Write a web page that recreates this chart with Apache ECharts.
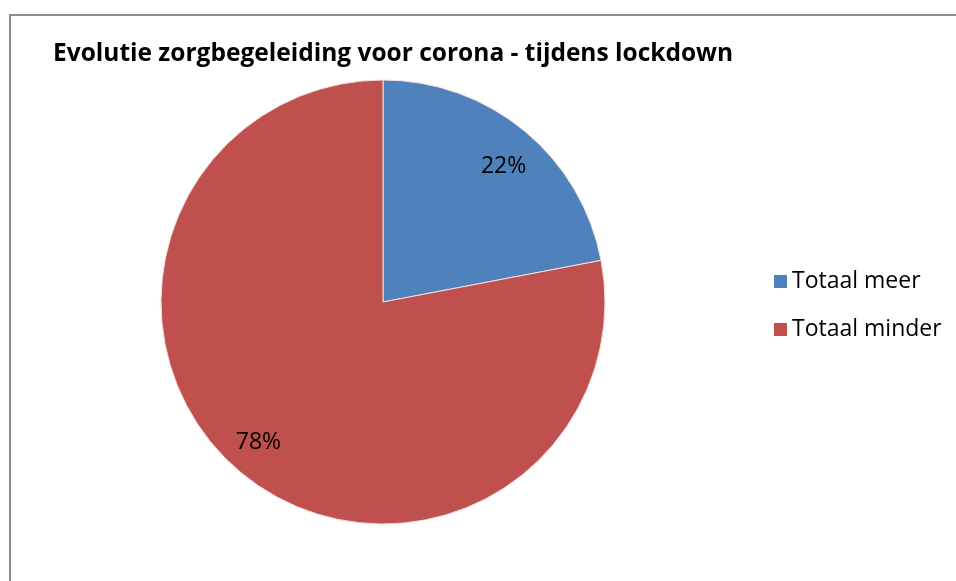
<!DOCTYPE html>
<html><head><meta charset="utf-8">
<script src="https://cdn.jsdelivr.net/npm/echarts@6/dist/echarts.min.js"></script>
<style>
html,body{margin:0;padding:0;background:#fff;}
#frame{position:absolute;left:9px;top:14px;width:1000px;height:620px;border:2px solid #8c8c8c;box-sizing:border-box;}
#main{position:absolute;left:0;top:0;width:956px;height:581px;}
</style>
</head><body>
<div id="frame"></div>
<div id="main"></div>
<script>
var titleText = 'Evolutie zorgbegeleiding voor corona - tijdens lockdown';
var categories = ['Totaal meer', 'Totaal minder'];
var values = [22, 78];

// styling
var colors = ['#4F81BD', '#C0504D'];
var labelOffsets = [[2, 8], [-6, -3]];

var data = categories.map(function(c, i){ return {name: c, value: values[i], itemStyle:{color: colors[i]}}; });
var labelData = categories.map(function(c, i){ return {name: c, value: values[i], label:{offset: labelOffsets[i]}}; });

var chart = echarts.init(document.getElementById('main'), null, {renderer:'canvas'});
chart.setOption({
  animation: false,
  backgroundColor: 'transparent',
  title: {
    text: titleText, left: 48, top: 37,
    textStyle: {fontFamily: 'Open Sans', fontWeight: 'bold', fontSize: 24.5, color: '#000'}
  },
  legend: {
    data: categories, orient: 'vertical', left: 769, top: 265,
    itemWidth: 13, itemHeight: 13, itemGap: 25, icon: 'rect',
    itemStyle: {borderWidth: 0},
    textStyle: {fontFamily: 'Open Sans', fontSize: 23, color: '#000', padding:[0,0,0,0]}
  },
  series: [{
    type: 'pie', center: [383, 302], radius: [0, 222], startAngle: 90, clockwise: true,
    data: data, label: {show: false}, labelLine: {show: false},
    itemStyle: {borderColor: '#f2dede', borderWidth: 1}, silent: true
  }, {
    type: 'pie', center: [383, 302], radius: [144, 222], startAngle: 90, clockwise: true,
    data: labelData, silent: true, legendHoverLink: false,
    itemStyle: {color: 'rgba(0,0,0,0)'},
    label: {show: true, position: 'inside', formatter: '{c}%', fontFamily: 'Open Sans', fontSize: 23, color: '#000'},
    labelLine: {show: false}
  }]
});
</script>
</body></html>
